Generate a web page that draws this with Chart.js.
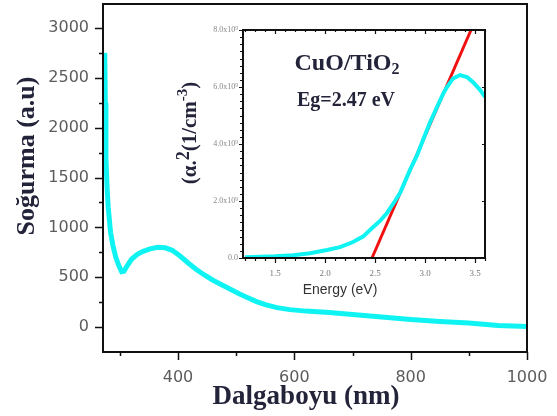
<!DOCTYPE html>
<html lang="tr">
<head>
<meta charset="UTF-8">
<title>Soğurma - CuO/TiO2</title>
<style>
  body { margin: 0; background: #fff; }
  #wrap { position: relative; width: 557px; height: 416px; }
  #main-chart { position: absolute; left: 0; top: 0; }
  #inset-chart { position: absolute; left: 160px; top: 20px; }
</style>
<script src="https://cdn.jsdelivr.net/npm/chart.js@4"></script>
</head>
<body>
<div id="wrap">
  <canvas id="main-chart" width="557" height="416"></canvas>
  <canvas id="inset-chart" width="340" height="280"></canvas>
</div>
<script>
// absorption spectrum (main plot)
const wavelengthNm = [274, 275, 276, 278, 280, 284, 288, 293, 298, 303, 307, 312, 320, 330, 340, 352, 365, 378, 390, 403,
                      418, 432, 446, 460, 475, 490, 505, 520, 535, 550, 570, 592, 620, 660, 700, 750, 800, 850, 900, 950, 1000];
const absorbance = [2750, 2250, 1700, 1400, 1200, 950, 820, 700, 620, 555, 560, 610, 680, 730, 760, 785, 800, 795, 770, 715,
                    640, 575, 520, 470, 425, 380, 335, 295, 255, 225, 195, 175, 160, 145, 125, 100, 75, 55, 40, 15, 5];
const mainXTicks = [400, 600, 800, 1000];
const mainXMinor = [300, 500, 700, 900];
const mainYTicks = [0, 500, 1000, 1500, 2000, 2500, 3000];
const mainYMinor = [250, 750, 1250, 1750, 2250, 2750];

// Tauc plot (inset), y in units of 10^9
const energyEv = [1.20, 1.35, 1.50, 1.68, 1.85, 2.02, 2.15, 2.28, 2.38, 2.45, 2.55, 2.62, 2.70, 2.75, 2.85, 2.92, 2.98,
                  3.05, 3.12, 3.18, 3.22, 3.28, 3.35, 3.42, 3.48, 3.55, 3.60];
const alphaSq = [0.03, 0.04, 0.06, 0.10, 0.17, 0.28, 0.38, 0.56, 0.75, 0.98, 1.30, 1.58, 2.00, 2.28, 3.09, 3.60, 4.14,
                 4.75, 5.30, 5.75, 6.00, 6.30, 6.42, 6.35, 6.17, 5.90, 5.65];
const fitEnergy = [2.47, 3.46];
const fitAlpha = [0, 8.0];
const insetXTicks = [1.5, 2.0, 2.5, 3.0, 3.5];
const insetYTicks = [0, 2, 4, 6, 8];
const insetYLabels = ['0.0', '2.0x10⁹', '4.0x10⁹', '6.0x10⁹', '8.0x10⁹'];

const cyan = '#0ff3f3';
const titleColor = '#23233a';

function pts(xs, ys) {
  return xs.map((v, i) => ({ x: v, y: ys[i] }));
}

// frame + tick marks drawn with the chart's own scales
function drawMarks(ctx, scale, vals, len, side, area) {
  vals.forEach(v => {
    const p = Math.round(scale.getPixelForValue(v)) + 0.5;
    if (side === 'bottom') { ctx.moveTo(p, area.bottom); ctx.lineTo(p, area.bottom + len); }
    if (side === 'top') { ctx.moveTo(p, area.top); ctx.lineTo(p, area.top + len); }
    if (side === 'left') { ctx.moveTo(area.left, p); ctx.lineTo(area.left - len, p); }
    if (side === 'right') { ctx.moveTo(area.right, p); ctx.lineTo(area.right - len, p); }
  });
}

const mainDecor = {
  id: 'mainDecor',
  afterDraw(chart) {
    const { ctx, chartArea: a, scales: { x, y } } = chart;
    ctx.save();
    ctx.strokeStyle = '#111';
    ctx.lineWidth = 2;
    ctx.strokeRect(a.left, a.top, a.right - a.left, a.bottom - a.top);
    ctx.lineWidth = 1.5;
    ctx.beginPath();
    drawMarks(ctx, x, mainXTicks, 8, 'bottom', a);
    drawMarks(ctx, x, mainXMinor, 4, 'bottom', a);
    drawMarks(ctx, y, mainYTicks, 8, 'left', a);
    drawMarks(ctx, y, mainYMinor, 4, 'left', a);
    ctx.stroke();

    ctx.fillStyle = titleColor;
    ctx.textAlign = 'center';
    ctx.textBaseline = 'middle';
    ctx.font = 'bold 27px "Liberation Serif"';
    ctx.fillText('Dalgaboyu (nm)', 306, 397);
    ctx.translate(27, 156);
    ctx.rotate(-Math.PI / 2);
    ctx.font = 'bold 26px "Liberation Serif"';
    ctx.fillText('Soğurma (a.u)', 0, 0);
    ctx.restore();
  }
};

const insetDecor = {
  id: 'insetDecor',
  afterDraw(chart) {
    const { ctx, chartArea: a, scales: { x, y } } = chart;
    const xMinor = [];
    for (let i = 12; i <= 36; i++) if (i % 5 !== 0) xMinor.push(i / 10);
    const yMinor = [];
    for (let i = 1; i < 32; i++) if (i % 8 !== 0) yMinor.push(i / 4);
    ctx.save();
    ctx.strokeStyle = '#111';
    ctx.lineWidth = 2;
    ctx.strokeRect(a.left, a.top, a.right - a.left, a.bottom - a.top);
    ctx.lineWidth = 1.2;
    ctx.beginPath();
    drawMarks(ctx, x, insetXTicks, 5, 'bottom', a);
    drawMarks(ctx, x, xMinor, 3, 'bottom', a);
    drawMarks(ctx, x, insetXTicks, 4, 'top', a);
    drawMarks(ctx, x, xMinor, 2, 'top', a);
    drawMarks(ctx, y, insetYTicks, 4, 'left', a);
    drawMarks(ctx, y, yMinor, 3, 'left', a);
    drawMarks(ctx, y, insetYTicks, 3, 'right', a);
    ctx.stroke();

    ctx.fillStyle = titleColor;
    ctx.textBaseline = 'alphabetic';
    // CuO/TiO2 with subscript
    ctx.font = 'bold 24px "Liberation Serif"';
    const w1 = ctx.measureText('CuO/TiO').width;
    ctx.font = 'bold 16px "Liberation Serif"';
    const w2 = ctx.measureText('2').width;
    let sx = 187 - (w1 + w2) / 2;
    ctx.textAlign = 'left';
    ctx.font = 'bold 24px "Liberation Serif"';
    ctx.fillText('CuO/TiO', sx, 50);
    ctx.font = 'bold 16px "Liberation Serif"';
    ctx.fillText('2', sx + w1, 54);
    ctx.textAlign = 'center';
    ctx.font = 'bold 20px "Liberation Serif"';
    ctx.fillText('Eg=2.47 eV', 186, 86);

    ctx.fillStyle = '#333';
    ctx.font = '14px "Liberation Sans"';
    ctx.textBaseline = 'middle';
    ctx.fillText('Energy (eV)', 180, 270);

    // rotated y title: (α.²(1/cm⁻³)
    ctx.fillStyle = titleColor;
    ctx.translate(28, 113);
    ctx.rotate(-Math.PI / 2);
    const parts = [
      ['(α.', 'bold 21px "Liberation Serif"', 0],
      ['2', 'bold 18px "Liberation Serif"', -7],
      ['(1/cm', 'bold 21px "Liberation Serif"', 0],
      ['-3', 'bold 15px "Liberation Serif"', -9],
      [')', 'bold 21px "Liberation Serif"', 0]
    ];
    let total = 0;
    parts.forEach(p => { ctx.font = p[1]; total += ctx.measureText(p[0]).width; });
    let px = -total / 2;
    ctx.textAlign = 'left';
    ctx.textBaseline = 'alphabetic';
    parts.forEach(p => {
      ctx.font = p[1];
      ctx.fillText(p[0], px, 8 + p[2]);
      px += ctx.measureText(p[0]).width;
    });
    ctx.restore();
  }
};

const hidden = { display: true, drawOnChartArea: false, color: 'rgba(0,0,0,0)' };

new Chart(document.getElementById('main-chart'), {
  type: 'line',
  data: {
    datasets: [{
      data: pts(wavelengthNm, absorbance),
      borderColor: cyan,
      borderWidth: 5,
      pointRadius: 0,
      tension: 0,
      clip: false
    }]
  },
  options: {
    responsive: false,
    animation: false,
    layout: { padding: { top: 4, right: 30, left: 0, bottom: 0 } },
    plugins: { legend: { display: false }, tooltip: { enabled: false } },
    scales: {
      x: {
        type: 'linear', min: 271, max: 1000,
        afterBuildTicks: s => { s.ticks = mainXTicks.map(v => ({ value: v })); },
        afterFit: s => { s.height = 64; s.paddingLeft = 0; s.paddingRight = 0; },
        grid: Object.assign({ tickLength: 10 }, hidden),
        border: { display: false },
        ticks: { padding: 6, color: '#5c5c5c', font: { family: 'DejaVu Sans', size: 16 }, maxRotation: 0, autoSkip: false,
                 callback: v => String(v) }
      },
      y: {
        type: 'linear', min: -250, max: 3240,
        afterBuildTicks: s => { s.ticks = mainYTicks.map(v => ({ value: v })); },
        afterFit: s => { s.width = 103; s.paddingTop = 0; s.paddingBottom = 0; },
        grid: Object.assign({ tickLength: 8 }, hidden),
        border: { display: false },
        ticks: { padding: 6, color: '#5c5c5c', font: { family: 'DejaVu Sans', size: 16 }, autoSkip: false,
                 callback: v => String(v) }
      }
    }
  },
  plugins: [mainDecor]
});

new Chart(document.getElementById('inset-chart'), {
  type: 'line',
  data: {
    datasets: [{
      data: pts(energyEv, alphaSq),
      borderColor: cyan,
      borderWidth: 4,
      pointRadius: 0,
      tension: 0
    }, {
      data: pts(fitEnergy, fitAlpha),
      borderColor: '#f01010',
      borderWidth: 3,
      pointRadius: 0,
      tension: 0,
      clip: false
    }]
  },
  options: {
    responsive: false,
    animation: false,
    layout: { padding: { top: 10, right: 15, left: 0, bottom: 0 } },
    plugins: { legend: { display: false }, tooltip: { enabled: false } },
    scales: {
      x: {
        type: 'linear', min: 1.18, max: 3.6,
        afterBuildTicks: s => { s.ticks = insetXTicks.map(v => ({ value: v })); },
        afterFit: s => { s.height = 42; s.paddingLeft = 0; s.paddingRight = 0; },
        grid: Object.assign({ tickLength: 4 }, hidden),
        border: { display: false },
        ticks: { padding: 6, color: '#777', font: { family: 'Liberation Serif', size: 9 }, maxRotation: 0, autoSkip: false,
                 callback: v => v.toFixed(1) }
      },
      y: {
        type: 'linear', min: 0, max: 8,
        afterBuildTicks: s => { s.ticks = insetYTicks.map(v => ({ value: v })); },
        afterFit: s => { s.width = 83; s.paddingTop = 0; s.paddingBottom = 0; },
        grid: Object.assign({ tickLength: 3 }, hidden),
        border: { display: false },
        ticks: { padding: 2, color: '#888', font: { family: 'Liberation Serif', size: 8 }, autoSkip: false,
                 callback: v => insetYLabels[insetYTicks.indexOf(v)] }
      }
    }
  },
  plugins: [insetDecor]
});
</script>
</body>
</html>
